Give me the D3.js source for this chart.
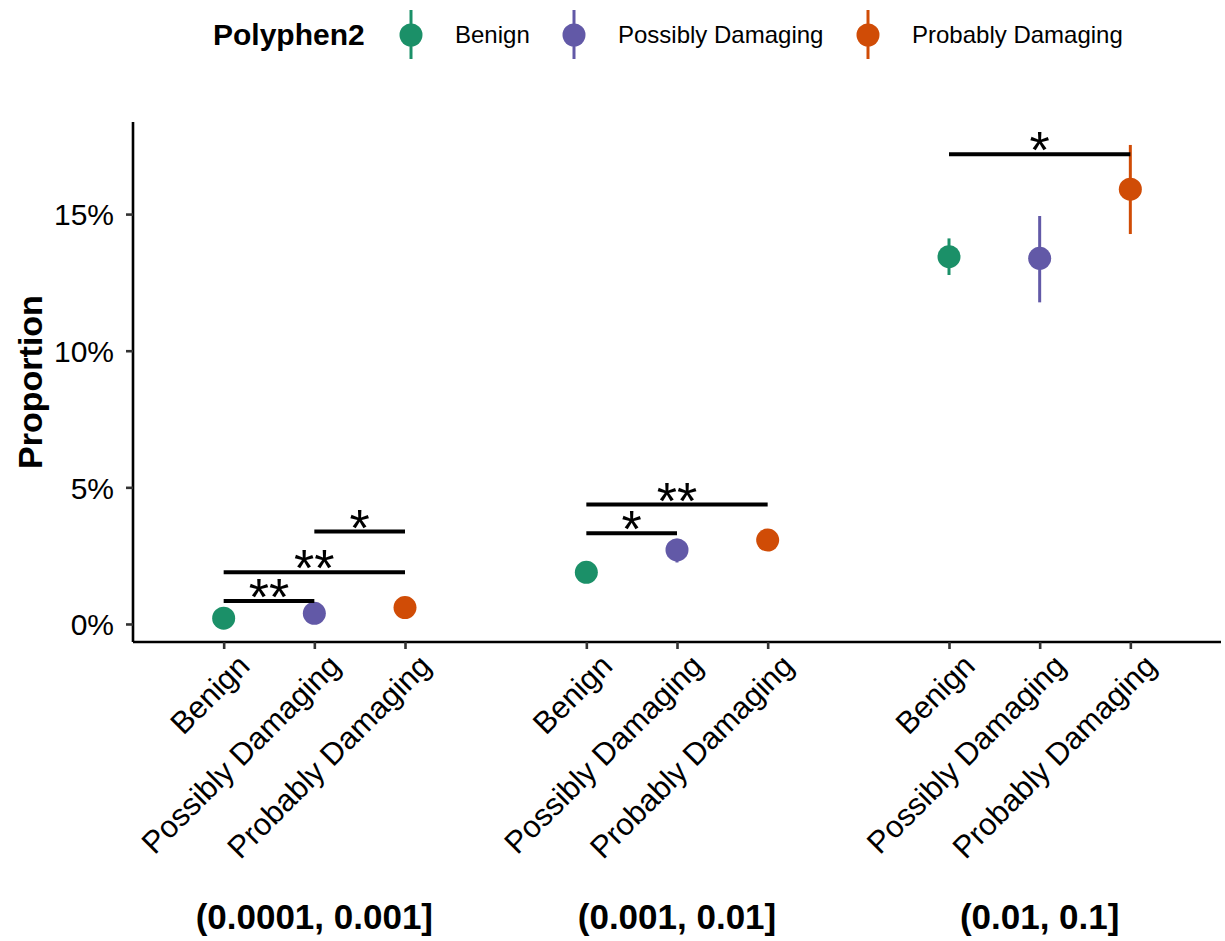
<!DOCTYPE html>
<html><head><meta charset="utf-8">
<script src="https://cdn.jsdelivr.net/npm/d3@7"></script>
<style>body{margin:0;background:#fff}svg{display:block;font-family:"Liberation Sans",Arial,sans-serif}</style>
</head><body><svg id="c" width="1225" height="941"></svg>
<script>
const groups = ["(0.0001, 0.001]", "(0.001, 0.01]", "(0.01, 0.1]"];
const categories = ["Benign", "Possibly Damaging", "Probably Damaging"];
const colors = ["#1B9068", "#6259A7", "#D04C06"];
// proportion (%) per group, in category order
const proportion = [[0.21, 0.39, 0.60], [1.89, 2.71, 3.07], [13.44, 13.38, 15.91]];
const lower = [[0.15, 0.33, 0.52], [1.78, 2.25, 2.92], [12.77, 11.77, 14.27]];
const upper = [[0.27, 0.45, 0.68], [2.00, 3.12, 3.22], [14.11, 14.93, 17.53]];
// significance brackets: group, from category, to category, height (%), label
const brackets = [
  [0, 0, 1, 0.84, "**"], [0, 0, 2, 1.89, "**"], [0, 1, 2, 3.38, "*"],
  [1, 0, 1, 3.32, "*"], [1, 0, 2, 4.37, "**"],
  [2, 0, 2, 17.19, "*"]
];
const yTicks = [0, 5, 10, 15];

const svg = d3.select("#c");
const pos = (g, c) => g * 4 + c + 1;
const x = d3.scaleLinear().domain([0, 12]).range([133, 1221]);
const y = d3.scaleLinear().domain([-0.66, 18.37]).range([642, 122]);

// axes
const yAxis = svg.append("g").attr("transform", "translate(133,0)")
  .call(d3.axisLeft(y).tickValues(yTicks).tickFormat(d => d + "%").tickSize(7).tickPadding(12));
const xAxis = svg.append("g").attr("transform", "translate(0,642)")
  .call(d3.axisBottom(x).tickValues(d3.range(12).filter(i => i % 4 !== 0)).tickSize(7).tickFormat(""));
[yAxis, xAxis].forEach(a => {
  a.select(".domain").attr("stroke", "#000").attr("stroke-width", 2.6);
  a.selectAll(".tick line").attr("stroke", "#333").attr("stroke-width", 2.6);
});
yAxis.select(".domain").attr("d", `M0,${y.range()[1]}V${y.range()[0]}`);
xAxis.select(".domain").attr("d", `M${x.range()[0]},0H${x.range()[1]}`);
yAxis.selectAll(".tick text").attr("font-size", 30).attr("fill", "#000").attr("font-family", "Liberation Sans, Arial").attr("dy", "0.36em");

// x tick labels
const xl = svg.append("g");
groups.forEach((g, gi) => categories.forEach((c, ci) => {
  const px = x(pos(gi, ci));
  xl.append("text").attr("transform", `translate(${px + 12},652) rotate(-45)`)
    .attr("text-anchor", "end").attr("dy", "0.72em").attr("font-size", 31).text(c);
}));
// group labels
groups.forEach((g, gi) => {
  svg.append("text").attr("x", x(pos(gi, 1))).attr("y", 929).attr("text-anchor", "middle")
    .attr("font-size", 35).attr("font-weight", "bold").text(g);
});
// y title
svg.append("text").attr("transform", "translate(42,382) rotate(-90)").attr("text-anchor", "middle")
  .attr("font-size", 34).attr("font-weight", "bold").text("Proportion");

// error bars and points
const pts = svg.append("g");
groups.forEach((g, gi) => categories.forEach((c, ci) => {
  const px = x(pos(gi, ci));
  pts.append("line").attr("x1", px).attr("x2", px).attr("y1", y(lower[gi][ci])).attr("y2", y(upper[gi][ci]))
    .attr("stroke", colors[ci]).attr("stroke-width", 3);
  pts.append("circle").attr("cx", px).attr("cy", y(proportion[gi][ci])).attr("r", 11.5).attr("fill", colors[ci]);
}));

// brackets
brackets.forEach(([gi, a, b, h, lab]) => {
  const x1 = x(pos(gi, a)), x2 = x(pos(gi, b)), yy = y(h);
  svg.append("line").attr("x1", x1).attr("x2", x2).attr("y1", yy).attr("y2", yy)
    .attr("stroke", "#000").attr("stroke-width", 4);
  svg.append("text").attr("x", (x1 + x2) / 2).attr("y", yy + 14).attr("text-anchor", "middle")
    .attr("font-size", 52).text(lab);
});

// legend
const lg = svg.append("g");
lg.append("text").attr("x", 213).attr("y", 45).attr("font-size", 30).attr("font-weight", "bold").text("Polyphen2");
const lx = [411, 574, 868];
categories.forEach((c, ci) => {
  lg.append("line").attr("x1", lx[ci]).attr("x2", lx[ci]).attr("y1", 10).attr("y2", 59)
    .attr("stroke", colors[ci]).attr("stroke-width", 3);
  lg.append("circle").attr("cx", lx[ci]).attr("cy", 35).attr("r", 11.5).attr("fill", colors[ci]);
  lg.append("text").attr("x", lx[ci] + 44).attr("y", 43).attr("font-size", 24).text(c);
});
</script></body></html>
